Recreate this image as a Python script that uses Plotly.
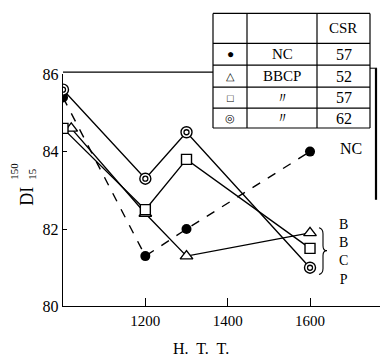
import plotly.graph_objects as go

W, H = 380, 361

# ---- data ----
nc_x = [1000, 1200, 1300, 1600]
nc_y = [85.4, 81.3, 82.0, 84.0]
b52_x = [1020, 1200, 1300, 1600]
b52_y = [84.6, 82.4, 81.3, 81.9]
b57_x = [1000, 1200, 1300, 1600]
b57_y = [84.6, 82.5, 83.8, 81.5]
b62_x = [1000, 1200, 1300, 1600]
b62_y = [85.6, 83.3, 84.5, 81.0]

x_ticks = [1200, 1400, 1600]
y_ticks = [80, 82, 84, 86]

table_header = "CSR"
table_symbols = ["●", "△", "□", "◎"]
table_names = ["NC", "BBCP", "〃", "〃"]
table_csr = ["57", "52", "57", "62"]
group_labels = ["B", "B", "C", "P"]

SERIF = "Liberation Serif, Times New Roman, serif"

# vertical calibration (rendered page is slightly squashed vertically)
VA, VB = 0.956, 7.6

def px(x):
    return x / W

def py(y):
    yy = (y - VB) / VA
    return (H - yy) / H

fig = go.Figure()
line = dict(color="black", width=1.4)
fig.add_trace(go.Scatter(x=nc_x, y=nc_y, mode="lines+markers",
                         line=dict(color="black", width=1.4, dash="dash"),
                         marker=dict(symbol="circle", size=10, color="black")))
fig.add_trace(go.Scatter(x=b52_x, y=b52_y, mode="lines+markers", line=line,
                         marker=dict(symbol="triangle-up", size=11, color="white",
                                     line=dict(color="black", width=1.4))))
fig.add_trace(go.Scatter(x=b57_x, y=b57_y, mode="lines+markers", line=line,
                         marker=dict(symbol="square", size=10, color="white",
                                     line=dict(color="black", width=1.4))))
fig.add_trace(go.Scatter(x=b62_x, y=b62_y, mode="lines+markers", line=line,
                         marker=dict(symbol="circle", size=11, color="white",
                                     line=dict(color="black", width=1.4))))
fig.add_trace(go.Scatter(x=b62_x, y=b62_y, mode="markers",
                         marker=dict(symbol="circle", size=5, color="white",
                                     line=dict(color="black", width=1.3))))

x0, ybot, ytop = 63, 307, 74
fig.update_layout(
    width=W, height=H, margin=dict(l=0, r=0, t=0, b=0),
    paper_bgcolor="white", plot_bgcolor="white", showlegend=False,
    font=dict(family=SERIF, color="black", size=15),
    xaxis=dict(domain=[px(x0), 1], range=[1000, 1770], tickvals=x_ticks,
               ticks="inside", ticklen=8, tickcolor="black", tickwidth=1.2,
               showline=True, linecolor="black", linewidth=1.4,
               showgrid=False, zeroline=False, tickfont=dict(size=15, family=SERIF)),
    yaxis=dict(domain=[py(ybot), py(ytop)], range=[80, 86], tickvals=y_ticks,
               ticks="inside", ticklen=4, tickcolor="black", tickwidth=1.2,
               showline=True, linecolor="black", linewidth=1.4,
               showgrid=False, zeroline=False, tickfont=dict(size=16, family=SERIF)),
)

shapes = []
def seg(xa, ya, xb, yb, w=1.2):
    shapes.append(dict(type="line", xref="paper", yref="paper",
                       x0=px(xa), y0=py(ya), x1=px(xb), y1=py(yb),
                       line=dict(color="black", width=w)))

tl, c1, c2, tr = 213, 247, 317, 370
rows = [13, 43, 65, 87, 108, 128]
# top frame line up to table
seg(x0, 72, tl, 72, 1.3)
for r in rows:
    seg(tl, r, tr, r)
for c in [tl, c1, c2, tr]:
    seg(c, rows[0], c, rows[-1])
seg(370, 68, 377, 68, 1)
seg(376, 68, 376, 200, 2.2)

# brace beside B B C P
pts = [(319, 228), (323, 229), (323, 234), (323, 246), (323, 251), (327, 251),
       (323, 251), (323, 256), (323, 269), (323, 274), (319, 275)]
P = [(px(a), py(b)) for a, b in pts]
path = (f"M {P[0][0]} {P[0][1]} Q {P[1][0]} {P[1][1]} {P[2][0]} {P[2][1]} "
        f"L {P[3][0]} {P[3][1]} Q {P[4][0]} {P[4][1]} {P[5][0]} {P[5][1]} "
        f"Q {P[6][0]} {P[6][1]} {P[7][0]} {P[7][1]} L {P[8][0]} {P[8][1]} "
        f"Q {P[9][0]} {P[9][1]} {P[10][0]} {P[10][1]}")
shapes.append(dict(type="path", xref="paper", yref="paper", path=path,
                   line=dict(color="black", width=1.1)))
fig.update_layout(shapes=shapes)

ann = []
def txt(x, y, s, size=15, **kw):
    ann.append(dict(x=px(x), y=py(y), xref="paper", yref="paper", text=s,
                    showarrow=False, font=dict(size=size, family=SERIF, color="black"),
                    xanchor="center", yanchor="middle", borderpad=0, **kw))

txt(343, 28, table_header, 15)
for i in range(4):
    yc = (rows[i + 1] + rows[i + 2]) / 2
    txt((tl + c1) / 2, yc, table_symbols[i], 11 if i else 12)
    txt((c1 + c2) / 2, yc, table_names[i], 15)
    txt((c2 + tr) / 2, yc, table_csr[i], 16)

# y title
txt(27, 197, "DI", 18, textangle=-90)
txt(14, 171, "150", 11, textangle=-90)
txt(32, 174, "15", 11, textangle=-90)
# x title
txt(201, 349, "H.  T.  T.", 16)
# series labels
txt(351, 149, "NC", 16)
txt(343, 252, "<br>".join(group_labels), 14)

fig.update_layout(annotations=ann)
fig.write_html("out.html")
